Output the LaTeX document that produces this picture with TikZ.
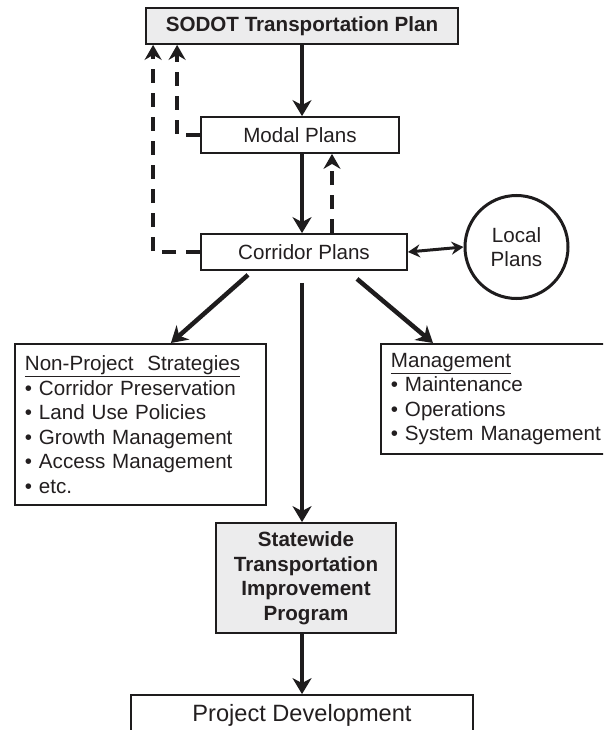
\documentclass[tikz,border=0pt]{standalone}
\usepackage{fontspec}
\setmainfont{Liberation Sans}
\usetikzlibrary{arrows.meta,calc}
\definecolor{textc}{RGB}{35,31,32}
\definecolor{linec}{RGB}{30,28,29}
\definecolor{fillc}{RGB}{236,236,237}
\newcommand{\basefont}{\fontsize{20.6pt}{24.5pt}\selectfont}
\tikzset{
  box/.style={draw=linec, line width=1.8pt, rectangle, inner sep=0pt, text=textc},
  graybox/.style={box, fill=fillc, font=\basefont\bfseries},
  listbox/.style={box, anchor=north west, align=left, inner xsep=10pt, inner ysep=0pt},
  arr/.style={line width=4.5pt, draw=linec, -{Stealth[length=16pt,width=19pt,inset=5pt]}},
  darr/.style={line width=4.5pt, draw=linec, dash pattern=on 14pt off 10pt, -{Stealth[length=15pt,width=17pt,inset=5pt]}},
  dbl/.style={line width=3pt, draw=linec, {Stealth[length=12pt,width=13pt,inset=4pt]}-{Stealth[length=12pt,width=13pt,inset=4pt]}},
}
\begin{document}
\begin{tikzpicture}[x=1pt, y=-1pt, font=\basefont, text=textc]
\clip (0,0) rectangle (603,730);
\fill[white] (0,0) rectangle (603,730);

\node[graybox, minimum width=312pt, minimum height=36pt] (sodot) at (302,26) {SODOT Transportation Plan};
\node[box, minimum width=198pt, minimum height=36pt] (modal) at (300,135) {Modal Plans};
\node[box, minimum width=206pt, minimum height=36pt] (corridor) at (304,252) {Corridor Plans};
\node[box, circle, line width=3pt, minimum size=103pt, align=center] (local) at (516.5,247) {Local\\Plans};

\node[listbox, text width=231pt, minimum height=161pt] (nonproj) at (14,343) {\underline{Non-Project\ \ Strategies}\\
\textbullet{} Corridor Preservation\\
\textbullet{} Land Use Policies\\
\textbullet{} Growth Management\\
\textbullet{} Access Management\\
\textbullet{} etc.};

\node[listbox, text width=215pt, minimum height=110pt] (mgmt) at (380,343) {\underline{Management}\\
\textbullet{} Maintenance\\
\textbullet{} Operations\\
\textbullet{} System Management};

\node[graybox, minimum width=180pt, minimum height=110pt, align=center] (stip) at (306,578) {Statewide\\Transportation\\Improvement\\Program};

\node[box, minimum width=342pt, minimum height=40pt, font=\fontsize{23.6pt}{28pt}\selectfont] (projdev) at (302,715) {Project Development};

% solid arrows
\draw[arr] (sodot.south) -- (sodot.south |- modal.north);
\draw[arr] ($(modal.south)+(2,0)$) -- ($(corridor.north)+(-2,0)$);
\draw[arr] ($(corridor.south)+(-56,4)$) -- ($(nonproj.north)+(30.5,0)$);
\draw[arr] ($(corridor.south)+(-2,12)$) -- ($(stip.north)+(-4,0)$);
\draw[arr] ($(corridor.south)+(53,8)$) -- ($(mgmt.north west)+(53,0)$);
\draw[arr] ($(stip.south)+(-4,0)$) -- ($(projdev.north)$);

% dashed feedback arrows
\draw[darr] (modal.west) -| ($(sodot.south west)+(32,0)$);
\draw[darr] (corridor.west) -| ($(sodot.south west)+(8,0)$);
\draw[darr] ($(corridor.north)+(28,0)$) -- ($(modal.south)+(32,0)$);

% double arrow
\draw[dbl] (corridor.east) -- (local.west);
\end{tikzpicture}
\end{document}
